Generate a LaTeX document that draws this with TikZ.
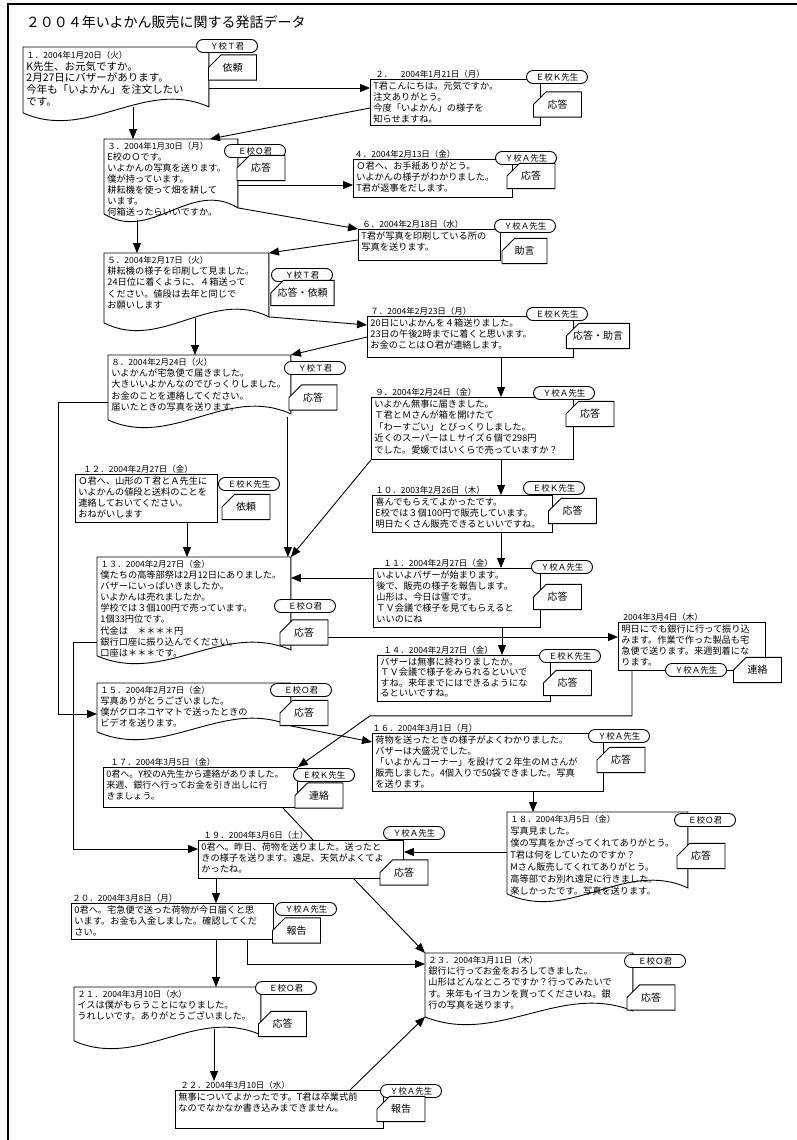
\documentclass[tikz,border=0pt]{standalone}
\usepackage{fontspec}
\setmainfont{Noto Sans CJK JP}
\usetikzlibrary{positioning, calc, arrows.meta, shapes.misc}

\newcommand{\msgfont}{\fontsize{9.2}{11}\selectfont}
\newcommand{\datefont}{\fontsize{8.5}{10}\selectfont}
% outline with wavy bottom for the document boxes
\newcommand{\docedge}[2][32]{%
  \draw ([yshift=-3pt]#2.south west) -- (#2.north west) -- (#2.north east) -- ([yshift=3pt]#2.south east)
    .. controls ($(#2.south east)!0.35!(#2.south west)+(0,-#1)$) and ($(#2.south east)!0.65!(#2.south west)+(0,#1)$) .. ([yshift=-3pt]#2.south west);}

\tikzset{
  msgbox/.style 2 args={draw, anchor=north west, align=left, inner xsep=3pt, inner ysep=2pt, text height=8pt, text width=#1, text depth=#2, font=\msgfont},
  docbox/.style 2 args={msgbox={#1}{#2}, draw=none},
  speaker/.style={draw, fill=white, rounded rectangle, minimum width=63pt, minimum height=13pt, inner sep=1pt, font=\fontsize{8.5}{10}\selectfont},
  tag/.style={draw, fill=white, chamfered rectangle, chamfered rectangle corners=north west, chamfered rectangle xsep=7pt, chamfered rectangle ysep=7pt, minimum width=48pt, minimum height=20pt, inner sep=1pt, font=\fontsize{10}{12}\selectfont},
  datelabel/.style={font=\datefont, inner sep=0pt},
}

\begin{document}
\begin{tikzpicture}[x=1pt, y=-1pt, line width=0.9pt, >={Triangle[length=10pt,width=8pt]}]
\useasboundingbox (0,0) rectangle (797,1140);

% frame and title
\draw[line width=1.2pt] (8,1140) -- (8,4) -- (797,4);
\node[anchor=west, font=\fontsize{14}{16}\selectfont] (title) at (22,22) {２００４年いよかん販売に関する発話データ};

% messages
\node[docbox={179pt}{49pt}, font=\fontsize{10.5}{11.7}\selectfont, text height=9pt] (b1) at (23,47) {{\datefont １．2004年1月20日（火）}\\K先生、お元気ですか。\\2月27日にバザーがあります。\\今年も「いよかん」を注文したい\\です。};
\docedge{b1}
\node[msgbox={164pt}{34pt}] (b2) at (370,79) {T君こんにちは。元気ですか。\\注文ありがとう。\\今度「いよかん」の様子を\\知らせますね。};
\node[datelabel, above right=0pt and 5pt of b2.north west] (d2) {２．　2004年1月21日（月）};
\node[docbox={127pt}{59pt}] (b3) at (104,139) {{\datefont ３．2004年1月30日（月）}\\E校のＯです。\\いよかんの写真を送ります。\\僕が持っています。\\耕耘機を使って畑を耕して\\います。\\何箱送ったらいいですか。};
\docedge{b3}
\node[msgbox={153pt}{26pt}] (b4) at (353,159) {Ｏ君へ、お手紙ありがとう。\\いよかんの様子がわかりました。\\T君が返事をだします。};
\node[datelabel, above right=0pt and 1pt of b4.north west] (d4) {４．2004年2月13日（金）};
\node[msgbox={136pt}{19pt}] (b6) at (358,229) {T君が写真を印刷している所の\\写真を送ります。};
\node[datelabel, above right=0pt and 4pt of b6.north west] (d6) {６．2004年2月18日（水）};
\node[docbox={158pt}{54pt}, font=\fontsize{9.2}{11.25}\selectfont] (b5) at (104,253) {{\datefont ５．2004年2月17日（火）}\\耕耘機の様子を印刷して見ました。\\24日位に着くように、４箱送って\\ください。値段は去年と同じで\\お願いします};
\docedge{b5}
\node[msgbox={200pt}{29pt}] (b7) at (367,316) {20日にいよかんを４箱送りました。\\23日の午後2時までに着くと思います。\\お金のことはＯ君が連絡します。};
\node[datelabel, above right=0pt and 3pt of b7.north west] (d7) {７．2004年2月23日（月）};
\node[docbox={176pt}{49pt}, font=\fontsize{9.2}{11.25}\selectfont] (b8) at (108,355) {{\datefont ８．2004年2月24日（火）}\\いよかんが宅急便で届きました。\\大きいいよかんなのでびっくりしました。\\お金のことを連絡してください。\\届いたときの写真を送ります。};
\docedge{b8}
\node[msgbox={196pt}{50pt}, font=\fontsize{9.2}{11.5}\selectfont] (b9) at (371,397) {いよかん無事に届きました。\\Ｔ君とＭさんが箱を開けたて\\「わーすごい」とびっくりしました。\\近くのスーパーはＬサイズ６個で298円\\でした。愛媛ではいくらで売っていますか？};
\node[datelabel, above right=0pt and 4pt of b9.north west] (d9) {９．2004年2月24日（金）};
\node[msgbox={174pt}{25pt}] (b10) at (372,495) {喜んでもらえてよかったです。\\E校では３個100円で販売しています。\\明日たくさん販売できるといいですね。};
\node[datelabel, above right=0pt and 3pt of b10.north west] (d10) {１０．2003年2月26日（木）};
\node[msgbox={161pt}{47pt}] (b11) at (373,568) {いよいよバザーが始まります。\\後で、販売の様子を報告します。\\山形は、今日は雪です。\\ＴＶ会議で様子を見てもらえると\\いいのにね};
\node[datelabel, above right=0pt and 10pt of b11.north west] (d11) {１１．2004年2月27日（金）};
\node[msgbox={136pt}{36pt}] (b12) at (75,474) {Ｏ君へ、山形のＴ君とＡ先生に\\いよかんの値段と送料のことを\\連絡しておいてください。\\おねがいします};
\node[datelabel, above right=0pt and 8pt of b12.north west] (d12) {１２．2004年2月27日（金）};
\node[docbox={187pt}{83pt}, font=\fontsize{9.2}{11.1}\selectfont] (b13) at (97,557) {{\datefont １３．2004年2月27日（金）}\\僕たちの高等部祭は2月12日にありました。\\バザーにいっぱいきましたか。\\いよかんは売れましたか。\\学校では３個100円で売っています。\\1個33円位です。\\代金は　＊＊＊＊円\\銀行口座に振り込んでください。\\口座は＊＊＊です。};
\docedge{b13}
\node[msgbox={141pt}{36pt}] (b34) at (618,622) {明日にでも銀行に行って振り込\\みます。作業で作った製品も宅\\急便で送ります。来週到着にな\\ります。};
\node[datelabel, above right=0pt and 5pt of b34.north west] (d34) {2004年3月4日（木）};
\node[msgbox={167pt}{34pt}, font=\fontsize{9.2}{10.5}\selectfont] (b14) at (377,655) {バザーは無事に終わりましたか。\\ＴＶ会議で様子をみられるといいで\\すね。来年までにはできるようにな\\るといいですね。};
\node[datelabel, above right=0pt and 6pt of b14.north west] (d14) {１４．2004年2月27日（金）};
\node[docbox={187pt}{33pt}] (b15) at (97,683) {{\datefont １５．2004年2月27日（金）}\\写真ありがとうございました。\\僕がクロネコヤマトで送ったときの\\ビデオを送ります。};
\docedge{b15}
\node[msgbox={225pt}{46pt}] (b16) at (372,733) {荷物を送ったときの様子がよくわかりました。\\バザーは大盛況でした。\\「いよかんコーナー」を設けて２年生のＭさんが\\販売しました。4個入りで50袋できました。写真\\を送ります。};
\node[datelabel, above right=0pt and 0pt of b16.north west] (d16) {１６．2004年3月1日（月）};
\node[msgbox={188pt}{28pt}, font=\fontsize{9}{11}\selectfont] (b17) at (103,767) {0君へ。Y校のA先生から連絡がありました。\\来週、銀行へ行ってお金を引き出しに行\\きましょう。};
\node[datelabel, above right=0pt and 7pt of b17.north west] (d17) {１７．2004年3月5日（金）};
\node[docbox={174pt}{66pt}, font=\fontsize{9.2}{12}\selectfont] (b18) at (507,812) {{\datefont １８．2004年3月5日（金）}\\写真見ました。\\僕の写真をかざってくれてありがとう。\\T君は何をしていたのですか？\\Mさん販売してくれてありがとう。\\高等部でお別れ遠足に行きました。\\楽しかったです。写真を送ります。};
\docedge{b18}
\node[msgbox={199pt}{26pt}] (b19) at (198,840) {0君へ。昨日、荷物を送りました。送ったと\\きの様子を送ります。遠足、天気がよくてよ\\かったね。};
\node[datelabel, above right=0pt and 5pt of b19.north west] (d19) {１９．2004年3月6日（土）};
\node[msgbox={196pt}{24pt}] (b20) at (71,903) {0君へ。宅急便で送った荷物が今日届くと思\\います。お金も入金しました。確認してくだ\\さい。};
\node[datelabel, above right=0pt and 1pt of b20.north west] (d20) {２０．2004年3月8日（月）};
\node[docbox={180pt}{38pt}] (b21) at (74,987) {{\datefont ２１．2004年3月10日（水）}\\イスは僕がもらうことになりました。\\うれしいです。ありがとうございました。};
\docedge{b21}
\node[msgbox={202pt}{26pt}] (b22) at (175,1090) {無事についてよかったです。T君は卒業式前\\なのでなかなか書き込みまできません。};
\node[datelabel, above right=0pt and 5pt of b22.north west] (d22) {２２．2004年3月10日（水）};
\node[docbox={201pt}{48pt}, font=\fontsize{9.2}{11.25}\selectfont] (b23) at (425,953) {{\datefont ２３．2004年3月11日（木）}\\銀行に行ってお金をおろしてきました。\\山形はどんなところですか？行ってみたいで\\す。来年もイヨカンを買ってくださいね。銀\\行の写真を送ります。};
\docedge{b23}

% arrows
\draw[->] ([yshift=-41pt]b1.north east) -- ([yshift=-9pt]b2.north west);
\draw[->] ([xshift=110pt,yshift=3pt]b1.south west) -- ([xshift=29pt]b3.north west);
\draw[->] ([yshift=-29pt]b2.north west) -- ([xshift=106pt]b3.north west);
\draw[->] ([yshift=-46pt]b3.north east) -- ([yshift=-26pt]b4.north west);
\draw[->] ([yshift=3pt]b3.south east) -- (b6.north west);
\draw[->] ([yshift=-11pt]b6.north west) -- (b5.north east);
\draw[->] ([xshift=33pt,yshift=-9pt]b3.south west) -- ([xshift=33pt]b5.north west);
\draw[->] ([yshift=3pt]b5.south east) -- ([yshift=-9pt]b7.north west);
\draw[->] ([yshift=-21pt]b7.north west) -- (b8.north east);
\draw[->] ([xshift=91pt,yshift=2pt]b5.south west) -- ([xshift=87pt]b8.north west);
\draw[->] ([xshift=134pt]b7.south west) -- ([xshift=130pt]b9.north west);
\draw[->] ([yshift=-47pt]b8.north west) -- ++(-50,0) |- ([yshift=-31pt]b15.north west);
\draw[->] ([xshift=-3pt]b8.south east) -- ([xshift=-3pt]b13.north east);
\draw[->] (b9.south west) -- (b13.north east);
\draw[->] ([xshift=130pt]b9.south west) -- ([xshift=129pt]b10.north west);
\draw[->] ([xshift=129pt]b10.south west) -- ([xshift=128pt]b11.north west);
\draw[->] ([yshift=-10pt]b11.north west) -- ([yshift=-21pt]b13.north east);
\draw[->] ([xshift=112pt]b12.south west) -- ([xshift=90pt]b13.north west);
\draw[->] ([yshift=-80pt]b13.north east) -- ([yshift=-15pt]b34.north west);
\draw[->] ([xshift=129pt]b11.south west) -- ([xshift=125pt]b14.north west);
\draw[->] ([yshift=-85pt]b13.north west) -- ++(-24,0) |- ([yshift=-9pt]b19.north west);
\draw[->] ([xshift=14pt]b34.south west) -- ++(0,45) -- ++(-262,0) -- (b17.north east);
\draw[->] ([yshift=3pt]b15.south east) -- ([yshift=-9pt]b16.north west);
\draw[->] ([xshift=161pt]b16.south west) -- ([xshift=26pt]b18.north west);
\draw ([xshift=-15pt]b17.south east) -- ([xshift=115pt]b19.north west);
\draw[->] ([yshift=-40pt]b18.north west) -- ([yshift=-12pt]b19.north east);
\draw[->] ([xshift=18pt]b19.south west) -- ([xshift=145pt]b20.north west);
\draw[->] ([xshift=-50pt]b19.south east) -- (b23.north west);
\draw[->] ([xshift=176pt]b20.south west) |- ([yshift=-11pt]b23.north west);
\draw[->] ([xshift=145pt]b20.south west) -- ([xshift=142pt]b21.north west);
\draw[->] ([xshift=140pt,yshift=9pt]b21.south west) -- ([xshift=34pt]d22.north west);
\draw[->] ([xshift=175pt]b22.north west) -- ([yshift=-3pt]b23.south west);

% speakers
\node[speaker] (s1) at (227,46) {Ｙ校Ｔ君};
\node[speaker] (s2) at (557,77) {Ｅ校Ｋ先生};
\node[speaker] (s3) at (255,151) {Ｅ校Ｏ君};
\node[speaker] (s4) at (526,158) {Ｙ校Ａ先生};
\node[speaker] (s6) at (525,226) {Ｙ校Ａ先生};
\node[speaker] (s5) at (302,275) {Ｙ校Ｔ君};
\node[speaker] (s7) at (557,314) {Ｅ校Ｋ先生};
\node[speaker] (s8) at (315,368) {Ｙ校Ｔ君};
\node[speaker] (s9) at (564,393) {Ｙ校Ａ先生};
\node[speaker] (s10) at (554,488) {Ｅ校Ｋ先生};
\node[speaker] (s11) at (562,567) {Ｙ校Ａ先生};
\node[speaker] (s12) at (249,484) {Ｅ校Ｋ先生};
\node[speaker] (s13) at (305,606) {Ｅ校Ｏ君};
\node[speaker] (s34) at (696,670) {Ｙ校Ａ先生};
\node[speaker] (s14) at (570,656) {Ｅ校Ｋ先生};
\node[speaker] (s15) at (301,690) {Ｅ校Ｏ君};
\node[speaker] (s16) at (619,736) {Ｙ校Ａ先生};
\node[speaker] (s17) at (324,775) {Ｅ校Ｋ先生};
\node[speaker] (s18) at (705,820) {Ｅ校Ｏ君};
\node[speaker] (s19) at (414,833) {Ｙ校Ａ先生};
\node[speaker] (s20) at (306,909) {Ｙ校Ａ先生};
\node[speaker] (s21) at (286,988) {Ｅ校Ｏ君};
\node[speaker] (s22) at (411,1091) {Ｙ校Ａ先生};
\node[speaker] (s23) at (655,961) {Ｅ校Ｏ君};

% speech acts
\node[tag] (t1) at (232.5,67.5) {依頼};
\node[tag] (t2) at (557.5,104.5) {応答};
\node[tag] (t3) at (261,168) {応答};
\node[tag] (t4) at (531,176) {応答};
\node[tag, minimum width=45pt] (t6) at (524.5,251) {助言};
\node[tag, minimum width=61pt] (t5) at (302.5,293) {応答・依頼};
\node[tag, minimum width=58pt, minimum height=22pt] (t7) at (598,336) {応答・助言};
\node[tag] (t8) at (313,397.5) {応答};
\node[tag] (t9) at (590,414) {応答};
\node[tag] (t10) at (572.5,511) {応答};
\node[tag] (t11) at (557.5,597) {応答};
\node[tag] (t12) at (246,507) {依頼};
\node[tag] (t13) at (304,632.5) {応答};
\node[tag] (t34) at (757.5,670) {連絡};
\node[tag] (t14) at (567.5,683) {応答};
\node[tag] (t15) at (304,713) {応答};
\node[tag] (t16) at (621,760) {応答};
\node[tag] (t17) at (319,795.5) {連絡};
\node[tag, minimum height=22pt] (t18) at (701,856) {応答};
\node[tag] (t19) at (404,872.5) {応答};
\node[tag] (t20) at (296.5,930.5) {報告};
\node[tag, minimum height=22pt] (t21) at (282.5,1024) {応答};
\node[tag, minimum height=22pt] (t22) at (401,1109) {報告};
\node[tag] (t23) at (651,997.5) {応答};
\end{tikzpicture}
\end{document}
